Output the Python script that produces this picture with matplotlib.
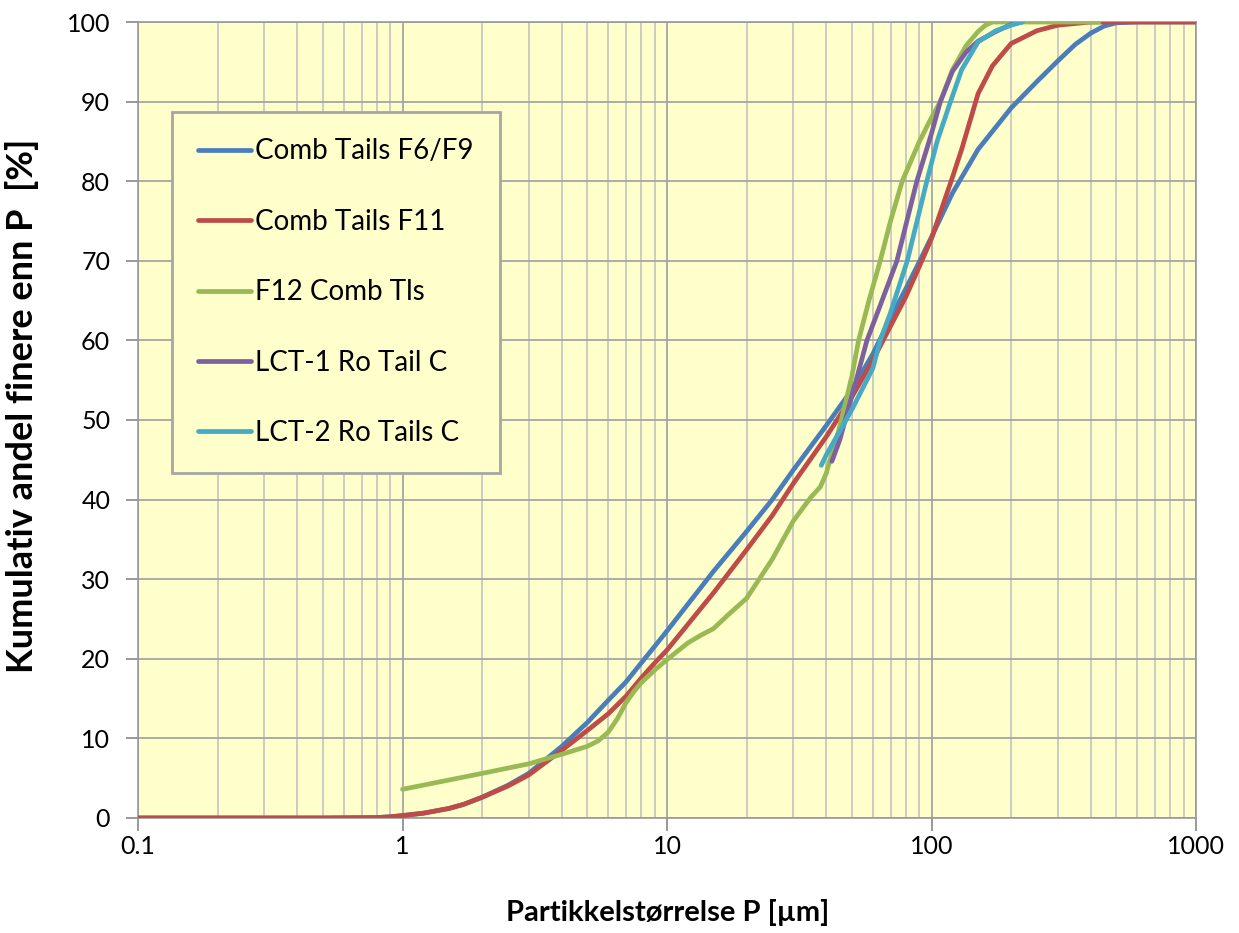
"""
Cumulative particle size distribution for tailings samples.
"""

import matplotlib
matplotlib.use("Agg")
import matplotlib.pyplot as plt
from matplotlib.ticker import FixedLocator, NullFormatter, LogLocator

plt.rcParams["font.family"] = ["Lato", "DejaVu Sans"]

# particle size [um] and cumulative passing [%]
f6f9_size = [0.1, 0.2, 0.5, 0.8, 0.9, 1, 1.2, 1.5, 1.7, 2, 2.5, 3, 4, 5, 6, 7, 8, 9,
             10, 15, 20, 25, 30, 40, 50, 60, 70, 80, 90, 100, 120, 150, 200, 250, 300,
             350, 400, 450, 500, 600, 1000]
f6f9_pass = [0, 0, 0, 0.05, 0.15, 0.3, 0.6, 1.2, 1.7, 2.6, 4.1, 5.6, 9.0, 12.0, 14.8,
             17.1, 19.5, 21.6, 23.5, 31.0, 36.0, 40.0, 43.7, 49.3, 53.8, 58.3, 62.8,
             66.5, 69.9, 73.0, 78.5, 84.0, 89.2, 92.5, 95.1, 97.2, 98.6, 99.5, 99.9,
             100, 100]

f11_size = [0.1, 0.2, 0.5, 0.8, 0.9, 1, 1.2, 1.5, 1.7, 2, 2.5, 3, 4, 5, 6, 7, 8, 9,
            10, 15, 20, 25, 30, 40, 50, 60, 70, 80, 90, 100, 120, 130, 150, 170, 200,
            250, 300, 400, 1000]
f11_pass = [0, 0, 0, 0.05, 0.15, 0.3, 0.6, 1.2, 1.7, 2.6, 4.0, 5.4, 8.5, 11.0, 13.1,
            15.3, 17.6, 19.5, 21.1, 28.3, 33.7, 38.0, 42.0, 47.9, 52.9, 57.5, 61.8,
            65.5, 69.3, 72.8, 80.5, 84.0, 91.0, 94.5, 97.3, 98.9, 99.6, 100, 100]

f12_size = [1, 2, 3, 4, 5, 5.5, 6, 6.5, 7, 7.5, 8, 9, 10, 12, 13.5, 15, 17, 20, 25,
            30, 35, 38, 40, 42, 44, 46, 50, 53, 58, 64, 70, 77.5, 90, 100, 108, 120,
            135, 150, 160, 170, 430]
f12_pass = [3.6, 5.6, 6.8, 8.0, 9.0, 9.7, 10.8, 12.5, 14.5, 15.9, 17.0, 18.6, 19.9,
            22.0, 23.0, 23.8, 25.5, 27.6, 32.5, 37.3, 40.3, 41.6, 43.3, 45.8, 48.0,
            50.5, 55.5, 60.0, 65.0, 70.0, 75.0, 80.0, 85.0, 88.0, 90.0, 94.0, 97.0,
            98.8, 99.6, 100, 100]

lct1_size = [42, 45, 50, 57, 65, 74, 88, 100, 108, 120, 135, 150, 175, 200, 220]
lct1_pass = [44.8, 47.5, 53.0, 60.0, 65.0, 70.0, 80.0, 86.0, 90.0, 93.8, 96.2, 97.6,
             98.8, 99.7, 100]

lct2_size = [38.3, 40, 50, 60, 64, 70, 81, 96, 105, 118, 130, 150, 175, 200, 220]
lct2_pass = [44.3, 45.6, 51.3, 56.5, 60.0, 63.5, 70.0, 80.0, 85.0, 90.0, 94.0, 97.5,
             98.9, 99.6, 100]

labels = ["Comb Tails F6/F9", "Comb Tails F11", "F12 Comb Tls",
          "LCT-1 Ro Tail C", "LCT-2 Ro Tails C"]
colors = ["#4A7EBB", "#BE4B48", "#98B954", "#7D60A0", "#46AAC5"]

series = [
    (f6f9_size, f6f9_pass),
    (f11_size, f11_pass),
    (f12_size, f12_pass),
    (lct1_size, lct1_pass),
    (lct2_size, lct2_pass),
]

fig = plt.figure(figsize=(12.39, 9.33), dpi=100)
ax = fig.add_axes([0.1114, 0.1233, 0.8539, 0.8531])
ax.set_facecolor("#FFFFCC")

for (x, y), label, color in zip(series, labels, colors):
    ax.plot(x, y, color=color, linewidth=3.4, label=label,
            solid_capstyle="round", solid_joinstyle="round", zorder=3)

ax.set_xscale("log")
ax.set_xlim(0.1, 1000)
ax.set_ylim(0, 100)

ax.xaxis.set_major_locator(FixedLocator([0.1, 1, 10, 100, 1000]))
ax.set_xticklabels(["0.1", "1", "10", "100", "1000"])
ax.xaxis.set_minor_locator(LogLocator(base=10, subs=range(2, 10), numticks=50))
ax.xaxis.set_minor_formatter(NullFormatter())
ax.set_yticks(range(0, 101, 10))

ax.grid(True, which="major", color="#A6A6A6", linewidth=1.3, zorder=1)
ax.grid(True, which="minor", axis="x", color="#BFBFBF", linewidth=1.1, zorder=1)
ax.set_axisbelow(True)

ax.tick_params(axis="both", which="major", direction="out", length=9,
               width=1.2, color="#888888", labelsize=18, pad=11)
ax.tick_params(axis="x", which="minor", length=0)
ax.tick_params(axis="x", which="major", pad=3)

for spine in ax.spines.values():
    spine.set_color("#999999")
    spine.set_linewidth(1.2)

fig.text(668 / 1239, 1 - 912 / 933, "Partikkelstørrelse P [µm]", fontsize=21,
         fontweight="bold", ha="center", va="center")
fig.text(22 / 1239, 1 - 406 / 933, "Kumulativ andel finere enn P  [%]",
         fontsize=26, fontweight="bold", rotation=90, ha="center", va="center")

leg = ax.legend(loc="upper left", bbox_to_anchor=(0.032, 0.887), fontsize=20,
                handlelength=1.9, handletextpad=0.15, labelspacing=1.6,
                borderpad=0.95, borderaxespad=0, fancybox=False,
                facecolor="#FFFFCC", edgecolor="#A6A6A6", framealpha=1)
leg.get_frame().set_linewidth(2)

plt.savefig("out.png", dpi=100)
plt.close()
